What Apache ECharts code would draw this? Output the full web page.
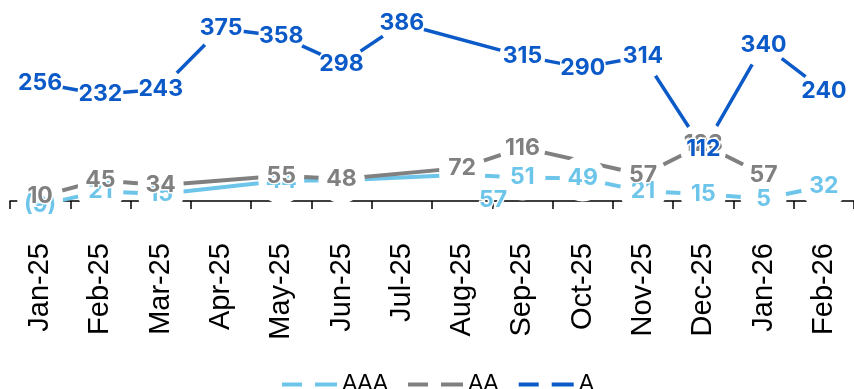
<!DOCTYPE html>
<html>
<head>
<meta charset="utf-8">
<script src="https://cdn.jsdelivr.net/npm/echarts@6/dist/echarts.min.js"></script>
<style>
  html, body { margin: 0; padding: 0; background: #fff; }
  #chart { width: 854px; height: 389px; }
</style>
</head>
<body>
<div id="chart"></div>
<script>
// month labels on the x axis
var months = ['Jan-25', 'Feb-25', 'Mar-25', 'Apr-25', 'May-25', 'Jun-25', 'Jul-25',
              'Aug-25', 'Sep-25', 'Oct-25', 'Nov-25', 'Dec-25', 'Jan-26', 'Feb-26'];
// values per rating bucket (null = no point for that month)
var aaaData = [-9, 21, 15, null, 44, 45, null, 57, 51, 49, 21, 15, 5, 32];
var aaData  = [10, 45, 34, null, 55, 48, null, 72, 116, null, 57, 123, 57, null];
var aData   = [256, 232, 243, 375, 358, 298, 386, null, 315, 290, 314, 112, 340, 240];

var colors = { AAA: '#6ec5ea', AA: '#808080', A: '#0b5ac8' };
// two dashes, used as legend icon
var dashIcon = 'path://M0,0H20V4H0Z M33,0H55V4H33Z';

function fmt (p) {
  var v = p.value;
  return v < 0 ? '(' + (-v) + ')' : String(v);
}

// line only
function lineSeries (name, data, width) {
  return {
    name: name, type: 'line', data: data, z: 2,
    symbol: 'none', connectNulls: true, clip: false, silent: true,
    lineStyle: { color: colors[name], width: width },
    itemStyle: { color: colors[name] }
  };
}
// white discs that break the lines around each point
function gapSeries (name, data) {
  return {
    name: name + '_gap', type: 'scatter', data: data, z: 3,
    symbol: 'circle', symbolSize: 46, clip: false, silent: true,
    itemStyle: { color: '#fff', opacity: 1 }
  };
}
// the value labels, drawn on top
function labelSeries (name, data, z) {
  return {
    name: name + '_lbl', type: 'scatter', data: data, z: z,
    symbolSize: 1, clip: false, silent: true,
    itemStyle: { color: 'rgba(0,0,0,0)', opacity: 1 },
    label: {
      show: true, position: 'inside', formatter: fmt, opacity: 1,
      color: colors[name], fontFamily: 'Inter', fontWeight: 'bold', fontSize: 23,
      textBorderColor: '#fff', textBorderWidth: 3
    }
  };
}

// AAA Aug label sits lower-right of its point in the original
var aaaLabels = aaaData.map(function (v, i) {
  if (i === 7) return { value: v, label: { offset: [31, 25] } };
  return v;
});

var chart = echarts.init(document.getElementById('chart'));
chart.setOption({
  animation: false,
  grid: { left: 10, right: -5, top: 17, bottom: 188 },
  legend: {
    data: [
      { name: 'AAA', icon: dashIcon },
      { name: 'AA', icon: dashIcon },
      { name: 'A', icon: dashIcon }
    ],
    left: 277, top: 368,
    itemWidth: 55, itemHeight: 4, itemGap: 20,
    textStyle: { fontFamily: 'Liberation Sans', fontSize: 23, color: '#000' }
  },
  xAxis: {
    type: 'category', data: months, boundaryGap: true,
    axisLine: { show: true, lineStyle: { color: '#000', width: 1.5 } },
    axisTick: { show: true, length: 8, lineStyle: { color: '#000', width: 1.5 } },
    axisLabel: {
      rotate: 90, margin: 42, interval: 0,
      fontFamily: 'Liberation Sans', fontSize: 29, color: '#000'
    }
  },
  yAxis: { type: 'value', min: 0, max: 400, show: false },
  series: [
    lineSeries('AAA', aaaData, 4),
    lineSeries('AA', aaData, 4),
    lineSeries('A', aData, 3.5),
    gapSeries('AAA', aaaData),
    gapSeries('AA', aaData),
    gapSeries('A', aData),
    labelSeries('AAA', aaaLabels, 4),
    labelSeries('AA', aaData, 5),
    labelSeries('A', aData, 6)
  ]
});
</script>
</body>
</html>
